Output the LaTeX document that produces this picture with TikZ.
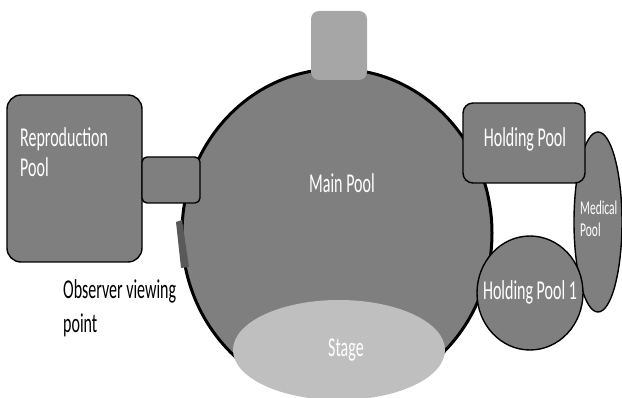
\documentclass[tikz,border=0pt]{standalone}
\usepackage{fontspec}
\setmainfont{Carlito}
\definecolor{poolgray}{HTML}{7F7F7F}
\definecolor{roofgray}{HTML}{A6A6A6}
\definecolor{stagegray}{HTML}{BFBFBF}
\definecolor{viewgray}{HTML}{595959}
% text in this plan is set tall and narrow
\newcommand{\tall}[1]{\scalebox{1}[1.7]{#1}}

\begin{document}
\begin{tikzpicture}[x=1pt,y=-1pt,
  pool/.style={fill=poolgray, draw=black, line width=1.4pt},
  poollabel/.style={text=white, inner sep=0pt, font=\fontsize{16}{30}\selectfont},
  smalllabel/.style={text=white, inner sep=0pt, font=\fontsize{11.5}{22}\selectfont},
  notelabel/.style={text=black, inner sep=0pt, font=\fontsize{16}{31}\selectfont}]
\useasboundingbox (0,0) rectangle (622,398);

% main pool
\draw[pool, line width=3pt] (337,233) ellipse [x radius=155, y radius=164];
% gate at the top of the main pool
\fill[roofgray, rounded corners=8pt] (311,11) rectangle (367,80);
% reproduction pool and its channel
\draw[pool, rounded corners=14pt] (7,95) rectangle (142,262);
\draw[pool, rounded corners=5pt] (142,157) rectangle (200,203);
% observer window
\fill[viewgray] (176,222) -- (182,220) -- (189,267) -- (181,268) -- cycle;
% stage
\fill[stagegray] (339,350) ellipse [x radius=106, y radius=50];
% medical and holding pools
\draw[pool] (598,222) ellipse [x radius=24, y radius=90];
\draw[pool, rounded corners=10pt] (463,103) rectangle (585,183);
\draw[pool] (530,293) ellipse [x radius=53, y radius=57];

% labels (multi-line nodes are placed by their last baseline)
\node[poollabel, anchor=base west, align=left] (repro) at (20,177) {\tall{Reproduction}\\\tall{Pool}};
\node[poollabel, anchor=base] (mainlbl) at (342,193) {\tall{Main Pool}};
\node[poollabel, anchor=base] (hold) at (525,147) {\tall{Holding Pool}};
\node[poollabel, anchor=base] (holdone) at (530,300) {\tall{Holding Pool 1}};
\node[smalllabel, anchor=base west, align=left] (med) at (580,237) {\tall{Medical}\\\tall{Pool}};
\node[notelabel, anchor=base west, align=left] (obs) at (63,333) {\tall{Observer viewing}\\[3pt]\tall{point}};
\node[poollabel, anchor=base] (stage) at (346,357) {\tall{Stage}};
\end{tikzpicture}
\end{document}
